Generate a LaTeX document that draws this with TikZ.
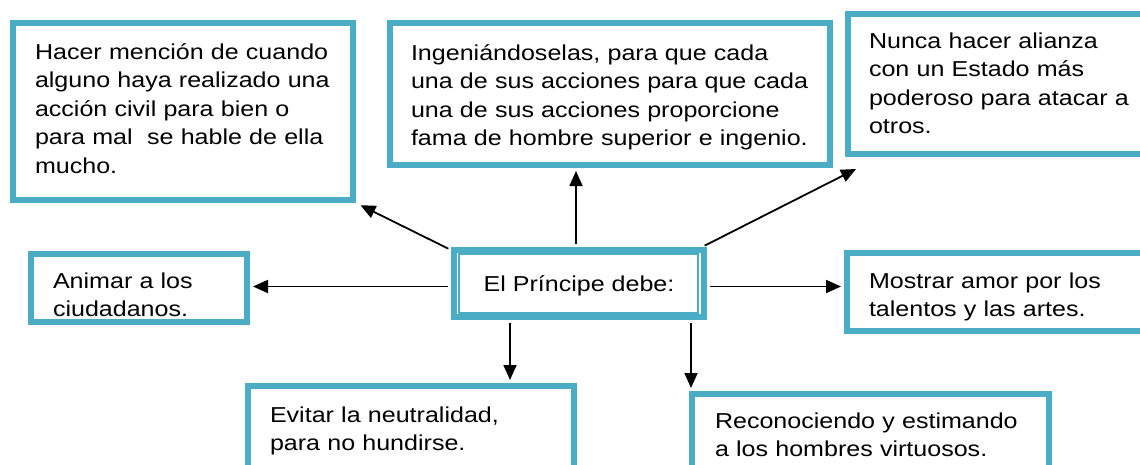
\documentclass[tikz,border=0pt]{standalone}
\usepackage{fontspec}
\setmainfont{Liberation Sans}[FakeStretch=1.16]
\usetikzlibrary{arrows.meta,positioning}
\newlength{\du}
\setlength{\du}{1\unitlength}

\tikzset{
  caja/.style={draw=dialinecolor, line width=6\du, anchor=north west, align=left,
    inner ysep=0pt, font=\fontsize{21.6}{28.5}\selectfont},
  principal/.style={draw=dialinecolor, line width=6\du, anchor=north west,
    inner sep=0pt, font=\fontsize{21.6}{28.5}\selectfont},
  flecha/.style={draw=black, line width=1.8\du, -{Triangle[length=15pt,width=13pt]},
    shorten <=3\du, shorten >=3\du},
}

\begin{document}
\begin{tikzpicture}[x=1\du,y=-1\du]
\definecolor{dialinecolor}{rgb}{0.294000, 0.675000, 0.776000}
\useasboundingbox (0,0) rectangle (1140,464);
\clip (0,0) rectangle (1140,464);
% top row
\node[caja, inner xsep=22\du, text width=296\du, text height=36\du, text depth=141\du] (mencion) at (10,20)
  {Hacer mención de cuando\\alguno haya realizado una\\acción civil para bien o\\para mal \ se hable de ella\\mucho.};
\node[caja, inner xsep=21\du, text width=398\du, text height=37\du, text depth=105\du] (ingenio) at (387,20)
  {Ingeniándoselas, para que cada\\una de sus acciones para que cada\\una de sus acciones proporcione\\fama de hombre superior e ingenio.};
\node[caja, inner xsep=21\du, text width=273\du, text height=34\du, text depth=106\du] (alianza) at (845,11)
  {Nunca hacer alianza\\con un Estado más\\poderoso para atacar a\\otros.};
% middle row
\node[caja, inner xsep=22\du, text width=172\du, text height=34\du, text depth=34\du] (ciudadanos) at (28,251)
  {Animar a los\\ciudadanos.};
\node[principal, minimum width=250\du, text height=41\du, text depth=26\du] (principe) at (451,247)
  {El Príncipe debe:};
\draw[dialinecolor, line width=1.5\du] ([xshift=8\du,yshift=-7\du]principe.north west) rectangle ([xshift=-9\du,yshift=7\du]principe.south east);
\node[caja, inner xsep=22\du, text width=272\du, text height=35\du, text depth=43\du] (talentos) at (844,250)
  {Mostrar amor por los\\talentos y las artes.};
% bottom row
\node[caja, inner xsep=22\du, text width=282\du, text height=36\du, text depth=84\du] (neutralidad) at (245,383)
  {Evitar la neutralidad,\\para no hundirse.};
\node[caja, inner xsep=23\du, text width=311\du, text height=34\du, text depth=86\du] (virtuosos) at (689,391)
  {Reconociendo y estimando\\a los hombres virtuosos.};
% arrows out of the centre box
\draw[flecha, shorten >=5\du] ([yshift=-3\du]principe.north west) -- (mencion.south east);
\draw[flecha] ([xshift=-3\du]principe.north) -- ([xshift=-3\du]principe.north |- ingenio.south);
\draw[flecha, shorten >=0pt] ([xshift=-5\du]principe.north east) -- ([xshift=11\du,yshift=-12\du]alianza.south west);
\draw[flecha] ([yshift=-3\du]principe.west) -- ([yshift=-3\du]principe.west -| ciudadanos.east);
\draw[flecha] ([yshift=-3\du]principe.east) -- ([yshift=-3\du]principe.east -| talentos.west);
\draw[flecha] ([xshift=-69\du]principe.south) -- ([xshift=-69\du]principe.south |- neutralidad.north);
\draw[flecha] ([xshift=112\du]principe.south) -- ([xshift=112\du]principe.south |- virtuosos.north);
\end{tikzpicture}
\end{document}
